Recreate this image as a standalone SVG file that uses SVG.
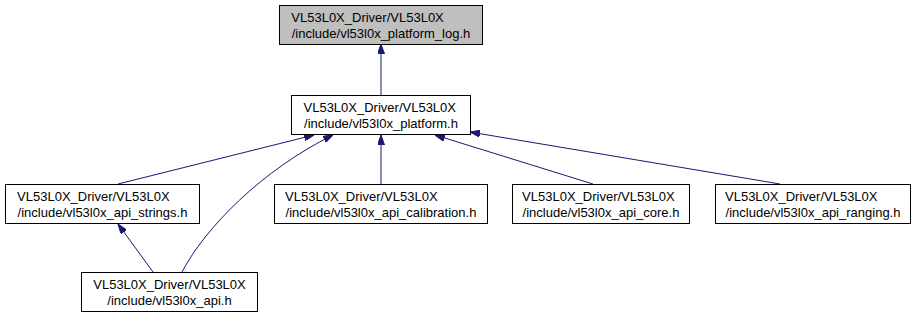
<svg xmlns="http://www.w3.org/2000/svg" width="916" height="320" viewBox="0 0 916 320">
  <style>
    .box { fill: #ffffff; stroke: #000000; stroke-width: 1; }
    .box.current { fill: #bfbfbf; }
    .lbl { font-family: "Liberation Sans", Arial, Helvetica, sans-serif; font-size: 13px; fill: #000000; }
    .mid { text-anchor: middle; }
    .edge { fill: none; stroke: #191970; stroke-width: 1; marker-end: url(#head); }
  </style>
  <defs>
    <marker id="head" viewBox="0 0 10 7" refX="10" refY="3.5" markerWidth="10" markerHeight="7" markerUnits="userSpaceOnUse" orient="auto">
      <path d="M0,0 L10,3.5 L0,7 z" fill="#191970" stroke="#191970"/>
    </marker>
  </defs>
  <rect width="916" height="320" fill="#ffffff"/>

  <!-- include dependency edges -->
  <g id="edges">
    <path class="edge" d="M381,95 L381,44"/>
    <path class="edge" d="M118,184 L314,135"/>
    <path class="edge" d="M182,272 C205,228 262,170 333,135"/>
    <path class="edge" d="M381,184 L381,135"/>
    <path class="edge" d="M593,184 L435,135"/>
    <path class="edge" d="M780,184 L470,132"/>
    <path class="edge" d="M153,272 L118,224"/>
  </g>

  <g id="node_platform_log">
    <rect class="box current" x="279.5" y="5.5" width="203" height="39"/>
    <text class="lbl" x="291.3" y="22">VL53L0X_Driver/VL53L0X</text>
    <text class="lbl mid" x="381" y="37.5">/include/vl53l0x_platform_log.h</text>
  </g>

  <g id="node_platform">
    <rect class="box" x="291.5" y="95.5" width="179" height="39"/>
    <text class="lbl" x="303.5" y="112">VL53L0X_Driver/VL53L0X</text>
    <text class="lbl mid" x="381" y="127.5">/include/vl53l0x_platform.h</text>
  </g>

  <g id="node_api_strings">
    <rect class="box" x="5.5" y="184.5" width="194" height="39"/>
    <text class="lbl" x="17.1" y="201">VL53L0X_Driver/VL53L0X</text>
    <text class="lbl mid" x="102.5" y="216.5">/include/vl53l0x_api_strings.h</text>
  </g>

  <g id="node_api_calibration">
    <rect class="box" x="274.5" y="184.5" width="213" height="39"/>
    <text class="lbl" x="285.1" y="201">VL53L0X_Driver/VL53L0X</text>
    <text class="lbl mid" x="381" y="216.5">/include/vl53l0x_api_calibration.h</text>
  </g>

  <g id="node_api_core">
    <rect class="box" x="512.5" y="184.5" width="177" height="39"/>
    <text class="lbl" x="522.1" y="201">VL53L0X_Driver/VL53L0X</text>
    <text class="lbl mid" x="601" y="216.5">/include/vl53l0x_api_core.h</text>
  </g>

  <g id="node_api_ranging">
    <rect class="box" x="715.5" y="184.5" width="195" height="39"/>
    <text class="lbl" x="725" y="201">VL53L0X_Driver/VL53L0X</text>
    <text class="lbl mid" x="813" y="216.5">/include/vl53l0x_api_ranging.h</text>
  </g>

  <g id="node_api">
    <rect class="box" x="81.5" y="272.5" width="176" height="39"/>
    <text class="lbl mid" x="169.5" y="289">VL53L0X_Driver/VL53L0X</text>
    <text class="lbl mid" x="169.5" y="304.5">/include/vl53l0x_api.h</text>
  </g>
</svg>
